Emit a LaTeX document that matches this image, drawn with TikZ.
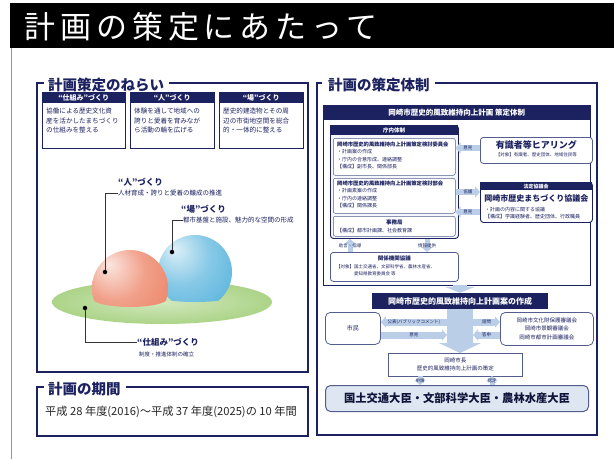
\documentclass[tikz,border=0pt]{standalone}
\usepackage{fontspec}
\setmainfont{Noto Sans CJK JP}
\usepackage{tikz}
\usetikzlibrary{arrows.meta, positioning, calc}
\definecolor{navy}{RGB}{28,34,96}
\definecolor{boxline}{RGB}{84,94,142}
\definecolor{arrowblue}{RGB}{186,206,232}
\definecolor{minfill}{RGB}{222,230,241}
\definecolor{groupfill}{RGB}{244,246,251}
\definecolor{sphereorange}{RGB}{236,128,98}
\definecolor{sphereblue}{RGB}{84,178,220}
\definecolor{groundgreen}{RGB}{172,212,136}
\definecolor{pagegray}{RGB}{150,150,150}

\newcommand{\fsz}[1]{\fontsize{#1}{#1}\selectfont}
\newcommand{\fszl}[2]{\fontsize{#1}{#2}\selectfont}

\pgfdeclareradialshading{orangeball}{\pgfpoint{-14bp}{16bp}}{color(0bp)=(sphereorange!20!white); color(20bp)=(sphereorange!75!white); color(42bp)=(sphereorange); color(70bp)=(sphereorange!80!black)}
\pgfdeclareradialshading{blueball}{\pgfpoint{-14bp}{16bp}}{color(0bp)=(sphereblue!20!white); color(20bp)=(sphereblue!70!white); color(42bp)=(sphereblue); color(70bp)=(sphereblue!80!black)}

\tikzset{
  panelframe/.style={draw=navy, line width=1.3pt},
  paneltitle/.style={font=\fsz{14.5}\bfseries, text=navy, inner sep=0pt, anchor=west},
  capbox/.style={draw=navy, line width=0.8pt, fill=white, anchor=north west, inner sep=0pt},
  capbar/.style={fill=navy, text=white, font=\fsz{7}\bfseries, anchor=north west, inner sep=0pt},
  aimtext/.style={font=\fszl{6.6}{9.6}, text=navy, align=left, anchor=north west, inner sep=0pt},
  groupbox/.style={draw=navy, line width=0.9pt, fill=groupfill, rounded corners=3pt, anchor=north west, inner sep=0pt},
  subbox/.style={draw=boxline, line width=0.5pt, fill=white, rounded corners=2pt, anchor=north west, inner sep=0pt},
  subtext/.style={font=\fszl{5}{7.2}, text=navy, align=left, anchor=north west, inner sep=0pt},
  dotmark/.style={circle, fill=black, inner sep=0pt, minimum size=4.5pt},
  leader/.style={draw=black!80, line width=0.6pt},
  spheretitle/.style={font=\fsz{8.5}\bfseries, text=navy, anchor=west, inner sep=0pt},
  spheresub/.style={font=\fsz{6.5}, text=navy, anchor=west, inner sep=0pt},
  sidearrow/.style={draw=arrowblue, line width=6pt, -{Triangle[width=11pt,length=5pt]}},
  arrowlabel/.style={font=\fsz{4.5}, text=navy, inner sep=0pt},
  widearrow/.style={draw=arrowblue}
}

\begin{document}
\begin{tikzpicture}[x=1pt, y=1pt]
  \useasboundingbox (0,0) rectangle (614,-459);
  \fill[white] (0,0) rectangle (614,-459);

  % Title banner
  \fill[black] (10,-3) rectangle (614,-48);
  \node[font={\fsz{31}\addfontfeature{LetterSpace=16}}, text=white, anchor=west, inner sep=0pt] (title) at (24,-27) {計画の策定にあたって};
  \draw[pagegray, line width=0.6pt] (11,-48) -- (11,-459);

  % ---------- Aims of the plan ----------
  \node[paneltitle] (aimHead) at (48,-85) {計画策定のねらい};
  \draw[panelframe] (44,-83) -- (37,-83) -- (37,-372) -- (308,-372) -- (308,-83) -- ($(aimHead.east)+(5,2)$);

  % three aim boxes
  \node[capbox, minimum width=83pt, minimum height=56pt] (aimA) at (42,-92) {};
  \node[capbar, minimum width=83pt, minimum height=11pt] (aimAbar) at (aimA.north west) {“仕組み”づくり};
  \node[aimtext] (aimAtxt) at ($(aimA.north west)+(4,-16)$) {協働による歴史文化資\\産を活かしたまちづくり\\の仕組みを整える};

  \node[capbox, minimum width=84pt, minimum height=56pt] (aimB) at (130,-92) {};
  \node[capbar, minimum width=84pt, minimum height=11pt] (aimBbar) at (aimB.north west) {“人”づくり};
  \node[aimtext] (aimBtxt) at ($(aimB.north west)+(4,-16)$) {体験を通して地域への\\誇りと愛着を育みなが\\ら活動の輪を広げる};

  \node[capbox, minimum width=84pt, minimum height=56pt] (aimC) at (219,-92) {};
  \node[capbar, minimum width=84pt, minimum height=11pt] (aimCbar) at (aimC.north west) {“場”づくり};
  \node[aimtext] (aimCtxt) at ($(aimC.north west)+(4,-16)$) {歴史的建造物とその周\\辺の市街地空間を総合\\的・一体的に整える};

  % ground disc and spheres
  \shade[inner color=groundgreen!55!white, outer color=groundgreen] (162,-302) ellipse (110 and 22);
  \begin{scope}
    \clip (158,-230) -- (158,-296) arc[start angle=180, end angle=360, x radius=37, y radius=6] -- (232,-230) -- cycle;
    \shade[shading=blueball] (195,-272) circle (37);
  \end{scope}
  \begin{scope}
    \clip (92,-240) -- (92,-298) arc[start angle=180, end angle=360, x radius=38, y radius=9] -- (168,-240) -- cycle;
    \shade[shading=orangeball] (130,-288) circle (38);
  \end{scope}

  % sphere labels
  \node[dotmark] (dotHito) at (105,-272) {};
  \node[spheretitle] (hitoTitle) at (118,-182) {“人”づくり};
  \node[spheresub] (hitoSub) at (118,-193) {人材育成・誇りと愛着の醸成の推進};
  \draw[leader] (dotHito) |- (hitoSub.west);

  \node[dotmark] (dotBa) at (172,-252) {};
  \node[spheretitle] (baTitle) at (181,-209) {“場”づくり};
  \node[spheresub] (baSub) at (183,-220) {都市基盤と施設、魅力的な空間の形成};
  \draw[leader] (dotBa) |- (baSub.west);

  \node[dotmark] (dotShikumi) at (85,-308) {};
  \node[spheretitle] (shikumiTitle) at (137,-342) {“仕組み”づくり};
  \node[spheresub, font=\fsz{5.5}] (shikumiSub) at (139,-354) {制度・推進体制の確立};
  \draw[leader] (dotShikumi) |- (shikumiTitle.west);

  % ---------- Plan period ----------
  \node[paneltitle] (termHead) at (48,-389) {計画の期間};
  \draw[panelframe] (44,-387) -- (37,-387) -- (37,-436) -- (308,-436) -- (308,-387) -- ($(termHead.east)+(5,2)$);
  \node[font=\fsz{11.2}, text=black!85, anchor=west, inner sep=0pt] (termText) at (45,-412) {平成 28 年度(2016)～平成 37 年度(2025)の 10 年間};

  % ---------- Planning organisation ----------
  \node[paneltitle] (orgHead) at (328,-85) {計画の策定体制};
  \draw[panelframe] (322,-83) -- (317,-83) -- (317,-435) -- (597,-435) -- (597,-83) -- ($(orgHead.east)+(5,2)$);

  \node[capbox, minimum width=267pt, minimum height=180pt] (orgBox) at (323,-105) {};
  \node[capbar, minimum width=267pt, minimum height=15pt, font=\fsz{7.5}\bfseries] (orgBar) at (orgBox.north west) {岡崎市歴史的風致維持向上計画\ 策定体制};

  % in-house group
  \node[groupbox, minimum width=128pt, minimum height=113pt] (chonai) at (330,-125) {};
  \node[capbar, minimum width=128pt, minimum height=10pt, font=\fsz{5.5}\bfseries] (chonaiBar) at (chonai.north west) {庁内体制};

  \node[subbox, minimum width=122pt, minimum height=37pt] (iinkai) at (333,-138) {};
  \node[subtext] (iinkaiTxt) at ($(iinkai.north west)+(4,-4)$) {\textbf{\fsz{5.3}岡崎市歴史的風致維持向上計画策定検討委員会}\\・計画案の作成\\・庁内の合意形成、連絡調整\\【構成】副市長、関係部長};

  \node[subbox, minimum width=122pt, minimum height=35pt] (bukai) at (333,-178) {};
  \node[subtext] (bukaiTxt) at ($(bukai.north west)+(4,-3)$) {\textbf{\fsz{5.3}岡崎市歴史的風致維持向上計画策定検討部会}\\・計画素案の作成\\・庁内の連絡調整\\【構成】関係課長};

  \node[subbox, minimum width=122pt, minimum height=20pt] (jimu) at (333,-216) {};
  \node[font=\fsz{5.5}\bfseries, text=navy, inner sep=0pt] (jimuTitle) at ($(jimu.north)+(0,-6)$) {事務局};
  \node[subtext] (jimuTxt) at ($(jimu.north west)+(4,-12)$) {【構成】都市計画課、社会教育課};

  % hearing and council
  \node[subbox, line width=0.8pt, rounded corners=3pt, minimum width=112pt, minimum height=26pt] (hearing) at (480,-137) {};
  \node[font=\fsz{9}\bfseries, text=navy, inner sep=0pt] (hearingTitle) at ($(hearing.north)+(0,-8)$) {有識者等ヒアリング};
  \node[font=\fsz{4.5}, text=navy, inner sep=0pt] (hearingTxt) at ($(hearing.north)+(0,-18)$) {【対象】有識者、歴史団体、地域住民等};

  \node[groupbox, fill=white, minimum width=112pt, minimum height=40pt] (council) at (480,-182) {};
  \node[capbar, minimum width=112pt, minimum height=8pt, font=\fsz{5}\bfseries] (councilBar) at (council.north west) {法定協議会};
  \node[font=\fsz{8}\bfseries, text=navy, inner sep=0pt] (councilTitle) at ($(council.north)+(0,-16)$) {岡崎市歴史まちづくり協議会};
  \node[subtext] (councilTxt) at ($(council.north west)+(5,-25)$) {・計画の内容に関する協議\\【構成】学識経験者、歴史団体、行政職員};

  \draw[sidearrow] (hearing.west |- 0,-148) -- (iinkai.east |- 0,-148) node[arrowlabel, midway] {意見};
  \draw[sidearrow] (bukai.east |- 0,-192) -- (council.west |- 0,-192) node[arrowlabel, midway] {協議};
  \draw[sidearrow] (council.west |- 0,-212) -- (bukai.east |- 0,-212) node[arrowlabel, midway] {意見};

  % related agencies
  \node[subbox, line width=0.8pt, rounded corners=3pt, minimum width=128pt, minimum height=29pt] (kankei) at (330,-252) {};
  \node[font=\fsz{5.5}\bfseries, text=navy, inner sep=0pt] (kankeiTitle) at ($(kankei.north)+(0,-6)$) {関係機関協議};
  \node[subtext, font=\fszl{4.5}{7}] (kankeiTxt) at ($(kankei.north west)+(6,-12)$) {【対象】国土交通省、文部科学省、農林水産省、\\\hspace{18pt}愛知県教育委員会\ 等};

  \draw[sidearrow, line width=5pt] (kankei.north west -| 350,0) -- (chonai.south west -| 350,0) node[arrowlabel, midway] {助言・指導};
  \draw[sidearrow, line width=5pt] (chonai.south west -| 427,0) -- (kankei.north west -| 427,0) node[arrowlabel, midway] {情報提供};

  % drafting flow
  \node[capbar, anchor=center, minimum width=176pt, minimum height=16pt, font=\fsz{8}\bfseries] (draft) at (460,-301) {岡崎市歴史的風致維持向上計画案の作成};
  \draw[widearrow, line width=14pt, -{Triangle[width=30pt,length=6pt]}] ($(orgBox.south -| draft.north)+(0,1)$) -- (draft.north);

  \node[subbox, line width=0.8pt, rounded corners=5pt, minimum width=55pt, minimum height=32pt, font=\fsz{6}, text=navy] (citizen) at (325,-312) {市民};
  \node[subbox, line width=0.8pt, rounded corners=5pt, minimum width=93pt, minimum height=33pt, align=center, font=\fszl{5.5}{8.5}, text=navy] (shingikai) at (500,-312) {岡崎市文化財保護審議会\\岡崎市景観審議会\\岡崎市都市計画審議会};

  \node[draw=boxline, line width=0.8pt, fill=white, minimum width=134pt, minimum height=23pt, align=center, font=\fszl{5.5}{8}, text=navy, anchor=north west, inner sep=0pt] (mayor) at (388,-353) {岡崎市長\\歴史的風致維持向上計画の策定};
  \draw[widearrow, line width=26pt, -{Triangle[width=42pt,length=10pt]}] (draft.south) -- (draft.south |- mayor.north);

  \coordinate (pubL) at (447,-322);
  \coordinate (opinL) at (447,-335);
  \coordinate (askR) at (473,-322);
  \coordinate (replyR) at (473,-335);
  \draw[sidearrow, line width=7pt] (pubL) -- (pubL -| citizen.east) node[arrowlabel, midway] {公表(パブリックコメント)};
  \draw[sidearrow, line width=7pt] (opinL -| citizen.east) -- (opinL) node[arrowlabel, midway] {意見};
  \draw[sidearrow, line width=7pt] (askR) -- (askR -| shingikai.west) node[arrowlabel, midway] {諮問};
  \draw[sidearrow, line width=7pt] (replyR -| shingikai.west) -- (replyR) node[arrowlabel, midway] {答申};

  % ministers
  \node[subbox, fill=minfill, line width=1pt, rounded corners=5pt, minimum width=263pt, minimum height=26pt, font=\fsz{11.3}\bfseries, text=navy!60!black] (minister) at (325,-385) {国土交通大臣・文部科学大臣・農林水産大臣};

  \coordinate (applyTop) at (420,-376);
  \coordinate (approveTop) at (492,-376);
  \draw[sidearrow, line width=5pt] (applyTop) -- (applyTop |- minister.north) node[arrowlabel, midway] {申請};
  \draw[sidearrow, line width=5pt] (approveTop |- minister.north) -- (approveTop) node[arrowlabel, midway] {認定};
\end{tikzpicture}
\end{document}
